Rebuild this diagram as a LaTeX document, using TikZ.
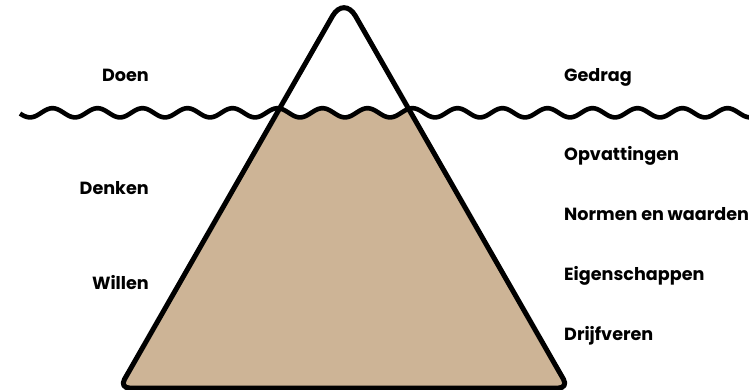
\documentclass[tikz,border=0pt]{standalone}
\usepackage{fontspec}
\setmainfont{Poppins}
\definecolor{sand}{RGB}{205,180,150}
\begin{document}
\begin{tikzpicture}[x=1pt,y=-1pt,
  lbl/.style={inner sep=0pt, font=\fontsize{17.6}{20}\selectfont\bfseries},
  outline/.style={line width=5pt, line join=round}]
\useasboundingbox (0,0) rectangle (749,390);
\coordinate (apex) at (344,-4);
\coordinate (bl) at (119.5,388);
\coordinate (br) at (568.5,388);
\coordinate (bm) at (344,388);
% filled part below the water line
\begin{scope}
  \clip plot[domain=0:760,samples=400] (\x,{112.8+4.6*cos(8*(\x-30))}) -- (760,420) -- (0,420) -- cycle;
  \fill[sand] (bm) [rounded corners=10pt] -- (br) [rounded corners=23pt] -- (apex) [rounded corners=10pt] -- (bl) -- cycle;
\end{scope}
% water line
\draw[line width=4.6pt] plot[domain=20:760,samples=400] (\x,{112.8+4.6*cos(8*(\x-30))});
% iceberg outline
\draw[outline] (bm) [rounded corners=10pt] -- (br) [rounded corners=23pt] -- (apex) [rounded corners=10pt] -- (bl) -- cycle;
% labels
\node[lbl, anchor=base east] (doen) at (149,81.7) {Doen};
\node[lbl, anchor=base east] (denken) at (149,195) {Denken};
\node[lbl, anchor=base east] (willen) at (149,289.3) {Willen};
\node[lbl, anchor=base west] (gedrag) at (564,81.7) {Gedrag};
\node[lbl, anchor=base west] (opv) at (564,160.7) {Opvattingen};
\node[lbl, anchor=base west] (normen) at (564,220) {Normen en waarden};
\node[lbl, anchor=base west] (eigen) at (564,280.7) {Eigenschappen};
\node[lbl, anchor=base west] (drijf) at (564,340.7) {Drijfveren};
\end{tikzpicture}
\end{document}
